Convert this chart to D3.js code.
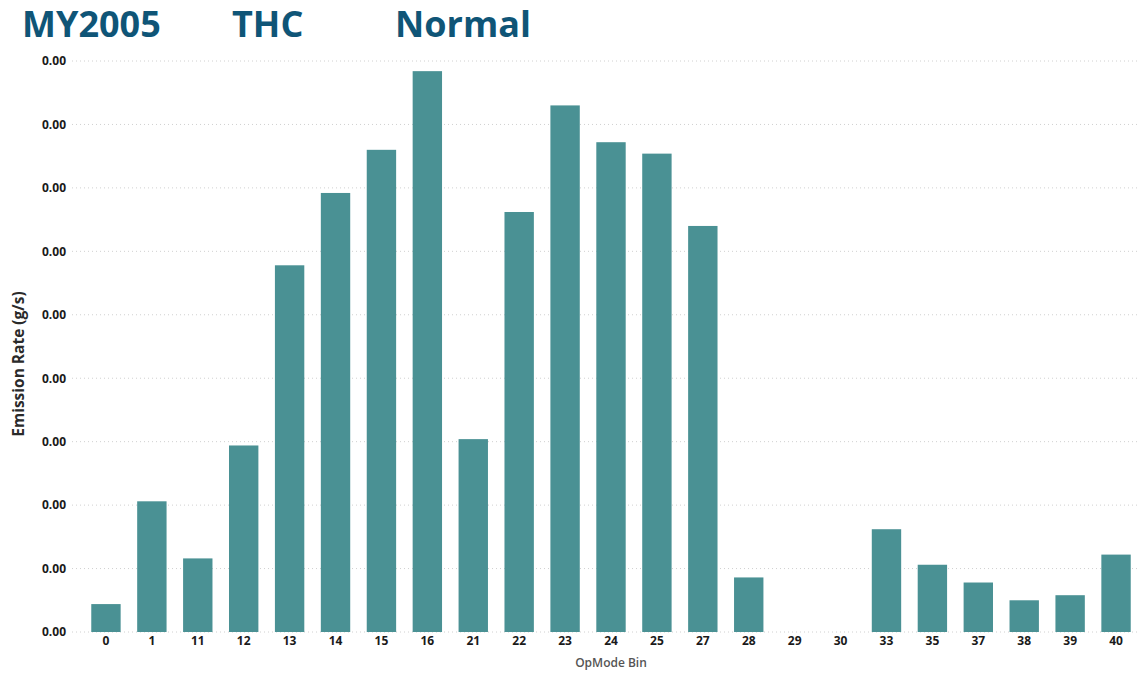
<!DOCTYPE html>
<html><head><meta charset="utf-8">
<script src="https://cdn.jsdelivr.net/npm/d3@7"></script>
<style>body{margin:0;background:#fff}svg{display:block}</style>
</head><body>
<script>
const categories = ["0","1","11","12","13","14","15","16","21","22","23","24","25","27","28","29","30","33","35","37","38","39","40"];
const values = [0.00022,0.00103,0.00058,0.00147,0.00289,0.00346,0.0038,0.00442,0.00152,0.00331,0.00415,0.00386,0.00377,0.0032,0.00043,0,0,0.00081,0.00053,0.00039,0.00025,0.00029,0.00061];
const yTicks = [0,0.0005,0.001,0.0015,0.002,0.0025,0.003,0.0035,0.004,0.0045];
const titleParts = ["MY2005","THC","Normal"];

const W=1143,H=676;
const svg=d3.select("body").append("svg").attr("width",W).attr("height",H);
const x=d3.scaleBand().domain(categories).range([83,1139]).paddingInner(0.36).paddingOuter(0.18);
const y=d3.scaleLinear().domain([0,0.0045]).range([632,61]);

// gridlines
svg.append("g").selectAll("line").data(yTicks).join("line")
 .attr("x1",72).attr("x2",1140).attr("y1",d=>y(d)).attr("y2",d=>y(d))
 .attr("stroke","#d0d0d0").attr("stroke-width",1).attr("stroke-dasharray","1,3");

// y axis
const ya=svg.append("g").attr("transform","translate(66,0)")
 .call(d3.axisLeft(y).tickValues(yTicks).tickFormat(d3.format(".2f")).tickSize(0).tickPadding(0));
ya.select(".domain").remove();
ya.selectAll("text").attr("font-family","Open Sans, sans-serif").attr("font-weight","bold").attr("font-size",12).attr("fill","#1a1a1a");

// bars
svg.append("g").selectAll("rect").data(categories).join("rect")
 .attr("x",d=>x(d)).attr("width",x.bandwidth())
 .attr("y",(d,i)=>y(values[i])).attr("height",(d,i)=>y(0)-y(values[i]))
 .attr("fill","#4a9194");

// x axis
const xa=svg.append("g").attr("transform","translate(0,636)")
 .call(d3.axisBottom(x).tickSize(0).tickPadding(0));
xa.select(".domain").remove();
xa.selectAll("text").attr("font-family","Open Sans, sans-serif").attr("font-weight","bold").attr("font-size",12).attr("fill","#1a1a1a");

svg.append("text").attr("x",611).attr("y",667).attr("text-anchor","middle")
 .attr("font-family","Open Sans, sans-serif").attr("font-weight","600").attr("font-size",12).attr("fill","#555").text("OpMode Bin");
svg.append("text").attr("transform","translate(24,364) rotate(-90)").attr("text-anchor","middle")
 .attr("font-family","Open Sans, sans-serif").attr("font-weight","bold").attr("font-size",15.5).attr("fill","#2a2a2a").text("Emission Rate (g/s)");

// title
const tx=[22,232,395];
svg.append("g").selectAll("text").data(titleParts).join("text")
 .attr("x",(d,i)=>tx[i]).attr("y",37)
 .attr("font-family","Open Sans, sans-serif").attr("font-weight","bold").attr("font-size",36).attr("fill","#0f5577").text(d=>d);
</script>
</body></html>
